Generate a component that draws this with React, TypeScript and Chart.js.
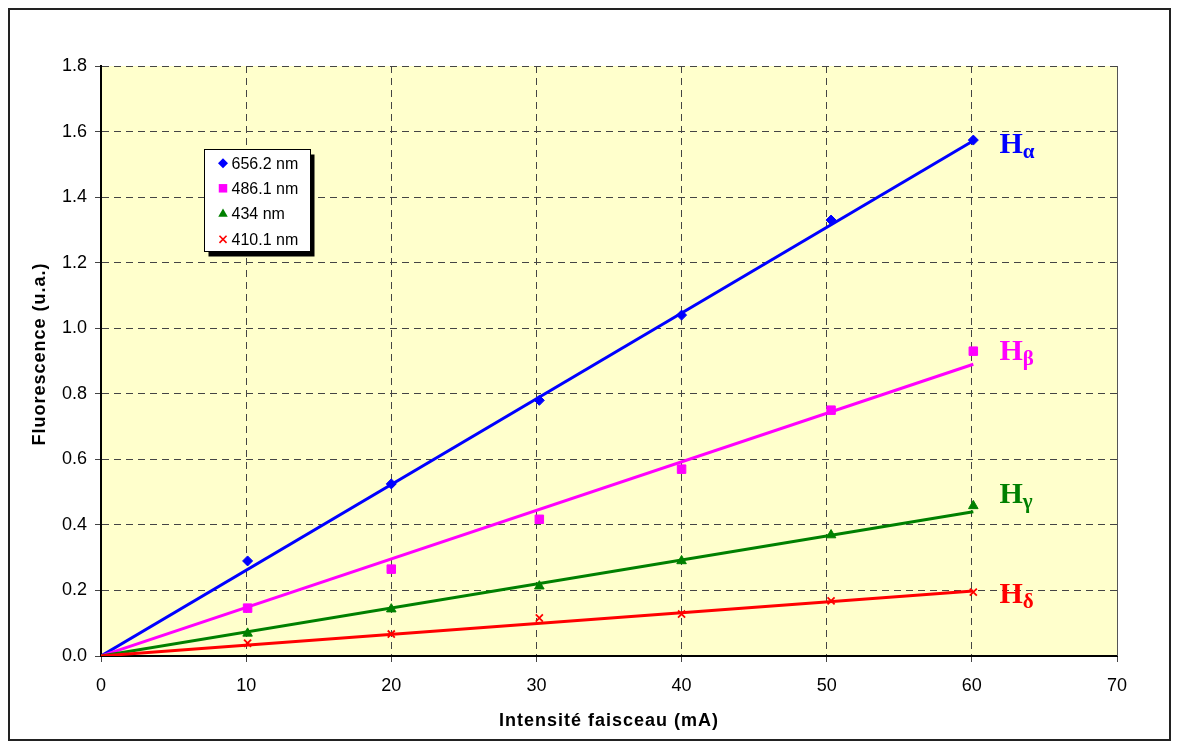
import React, { useEffect, useRef } from 'react';
import { Chart, registerables } from 'chart.js';

Chart.register(...registerables);

// ---- data ----
const xValues = [10.1, 20, 30.2, 40, 50.3, 60.1];
const seriesLabels = ['656.2 nm', '486.1 nm', '434 nm', '410.1 nm'];
const greekNames = ['α', 'β', 'γ', 'δ'];
const valsAlpha = [0.29, 0.525, 0.78, 1.04, 1.33, 1.574];
const valsBeta = [0.146, 0.265, 0.417, 0.57, 0.75, 0.93];
const valsGamma = [0.069, 0.143, 0.213, 0.29, 0.369, 0.458];
const valsDelta = [0.039, 0.067, 0.116, 0.128, 0.168, 0.195];
const trendX = [0, 60.1];
const trendAlpha = [0, 1.572];
const trendBeta = [0, 0.89];
const trendGamma = [0, 0.44];
const trendDelta = [0, 0.198];
const xTicks = [0, 10, 20, 30, 40, 50, 60, 70];
const yTicks = [0, 0.2, 0.4, 0.6, 0.8, 1.0, 1.2, 1.4, 1.6, 1.8];
const xTitle = 'Intensité faisceau (mA)';
const yTitle = 'Fluorescence (u.a.)';

// ---- styles ----
const colors = ['#0000FF', '#FF00FF', '#008000', '#FF0000'];
const pointStyles = ['rectRot', 'rect', 'triangle', 'crossRot'];
const pointRadii = [5, 6, 5.5, 5];
const labelAnchorX = 61.9;
const labelAnchorY = [1.534, 0.903, 0.467, 0.162];

const allVals = [valsAlpha, valsBeta, valsGamma, valsDelta];
const allTrends = [trendAlpha, trendBeta, trendGamma, trendDelta];

function drawMarker(ctx: CanvasRenderingContext2D, style: string, x: number, y: number, r: number, color: string) {
  ctx.save();
  ctx.fillStyle = color;
  ctx.strokeStyle = color;
  ctx.lineWidth = 1.6;
  ctx.beginPath();
  if (style === 'rectRot') {
    ctx.moveTo(x - r, y); ctx.lineTo(x, y - r); ctx.lineTo(x + r, y); ctx.lineTo(x, y + r); ctx.closePath(); ctx.fill();
  } else if (style === 'rect') {
    const s = r * Math.SQRT1_2;
    ctx.rect(x - s, y - s, 2 * s, 2 * s); ctx.fill();
  } else if (style === 'triangle') {
    const h = r * 0.866;
    ctx.moveTo(x, y - r); ctx.lineTo(x + h, y + r / 2); ctx.lineTo(x - h, y + r / 2); ctx.closePath(); ctx.fill();
  } else {
    const s = r * Math.SQRT1_2;
    ctx.moveTo(x - s, y - s); ctx.lineTo(x + s, y + s); ctx.moveTo(x + s, y - s); ctx.lineTo(x - s, y + s); ctx.stroke();
  }
  ctx.restore();
}

const decorPlugin = {
  id: 'decor',
  beforeDraw(chart: any) {
    const { ctx, chartArea: a } = chart;
    ctx.save();
    ctx.fillStyle = '#FFFFCC';
    ctx.fillRect(a.left, a.top, a.right - a.left, a.bottom - a.top);
    ctx.restore();
  },
  afterDraw(chart: any) {
    const { ctx, chartArea: a, scales } = chart;
    // right edge of plot area
    ctx.save();
    ctx.strokeStyle = '#555';
    ctx.lineWidth = 1;
    ctx.beginPath();
    ctx.moveTo(a.right + 0.5, a.top);
    ctx.lineTo(a.right + 0.5, a.bottom);
    ctx.stroke();
    ctx.restore();

    // axis titles
    ctx.save();
    ctx.fillStyle = '#000';
    ctx.font = 'bold 18px "Liberation Sans", Arial, sans-serif';
    (ctx as any).letterSpacing = '1px';
    ctx.textAlign = 'center';
    ctx.textBaseline = 'alphabetic';
    ctx.fillText(xTitle, (a.left + a.right) / 2, 716);
    ctx.translate(35, 344);
    ctx.rotate(-Math.PI / 2);
    ctx.fillText(yTitle, 0, 0);
    ctx.restore();

    // H labels
    ctx.save();
    for (let i = 0; i < 4; i++) {
      const px = scales.x.getPixelForValue(labelAnchorX);
      const py = scales.y.getPixelForValue(labelAnchorY[i]);
      ctx.fillStyle = colors[i];
      ctx.textAlign = 'left';
      ctx.textBaseline = 'alphabetic';
      ctx.font = 'bold 30px "Liberation Serif", "Times New Roman", serif';
      ctx.fillText('H', px, py);
      const w = ctx.measureText('H').width;
      ctx.font = 'bold 21px "Liberation Serif", "Times New Roman", serif';
      ctx.fillText(greekNames[i], px + w, py + 5);
    }
    ctx.restore();

    // legend
    const lx = 194.5, ly = 139.5, lw = 106, lh = 102;
    ctx.save();
    ctx.fillStyle = '#000';
    ctx.fillRect(lx + 4, ly + 5, lw, lh);
    ctx.fillStyle = '#FFFFFF';
    ctx.fillRect(lx, ly, lw, lh);
    ctx.strokeStyle = '#000';
    ctx.lineWidth = 1;
    ctx.strokeRect(lx, ly, lw, lh);
    const rows = [153.3, 178.3, 204, 229.3];
    ctx.font = '16px "Liberation Sans", Arial, sans-serif';
    ctx.textBaseline = 'middle';
    ctx.textAlign = 'left';
    for (let i = 0; i < 4; i++) {
      drawMarker(ctx, pointStyles[i], 213, rows[i], pointRadii[i], colors[i]);
      ctx.fillStyle = '#000';
      ctx.fillText(seriesLabels[i], 221.5, rows[i] + 1);
    }
    ctx.restore();
  },
};

export default function App() {
  const ref = useRef<HTMLCanvasElement>(null);
  useEffect(() => {
    if (!ref.current) return;
    const scatterSets = allVals.map((vals, i) => ({
      label: seriesLabels[i],
      data: xValues.map((x, j) => ({ x, y: vals[j] })),
      showLine: false,
      pointStyle: pointStyles[i],
      pointRadius: pointRadii[i],
      pointBackgroundColor: colors[i],
      pointBorderColor: colors[i],
      pointBorderWidth: i === 3 ? 1.8 : 1,
      backgroundColor: colors[i],
      borderColor: colors[i],
      order: i,
    }));
    const trendSets = allTrends.map((vals, i) => ({
      label: 'trend ' + seriesLabels[i],
      data: trendX.map((x, j) => ({ x, y: vals[j] })),
      showLine: true,
      pointRadius: 0,
      borderColor: colors[i],
      backgroundColor: colors[i],
      borderWidth: 3,
      order: 13 - i,
    }));
    const tickFont = { family: '"Liberation Sans", Arial, sans-serif', size: 18 };
    const chart = new Chart(ref.current, {
      type: 'scatter',
      data: { datasets: [...scatterSets, ...trendSets] as any },
      plugins: [decorPlugin],
      options: {
        animation: false,
        responsive: true,
        maintainAspectRatio: false,
        layout: { padding: { top: 56, right: 52, left: 0, bottom: 0 } },
        plugins: { legend: { display: false }, tooltip: { enabled: false } },
        scales: {
          x: {
            type: 'linear',
            min: 0,
            max: 70,
            afterBuildTicks: (s: any) => { s.ticks = xTicks.map((v) => ({ value: v })); },
            afterFit: (s: any) => { s.height = 83; },
            ticks: { font: tickFont, color: '#000', padding: 13, maxRotation: 0, callback: (v: any) => String(v) },
            grid: { color: '#444', lineWidth: 1, tickLength: 6, tickColor: '#444', drawTicks: true },
            border: { color: '#000', width: 2, dash: [7, 5] },
          },
          y: {
            type: 'linear',
            min: 0,
            max: 1.8,
            afterBuildTicks: (s: any) => { s.ticks = yTicks.map((v) => ({ value: v })); },
            afterFit: (s: any) => { s.width = 91; },
            ticks: { font: tickFont, color: '#000', padding: 8, callback: (v: any) => Number(v).toFixed(1) },
            grid: { color: '#444', lineWidth: 1, tickLength: 6, tickColor: '#444', drawTicks: true },
            border: { color: '#000', width: 2, dash: [7, 5] },
          },
        },
      } as any,
    });
    return () => chart.destroy();
  }, []);
  return (
    <div style={{ width: 1163, height: 733, boxSizing: 'border-box', border: '2px solid #222', position: 'relative', background: '#fff' }}>
      <canvas ref={ref} />
    </div>
  );
}
